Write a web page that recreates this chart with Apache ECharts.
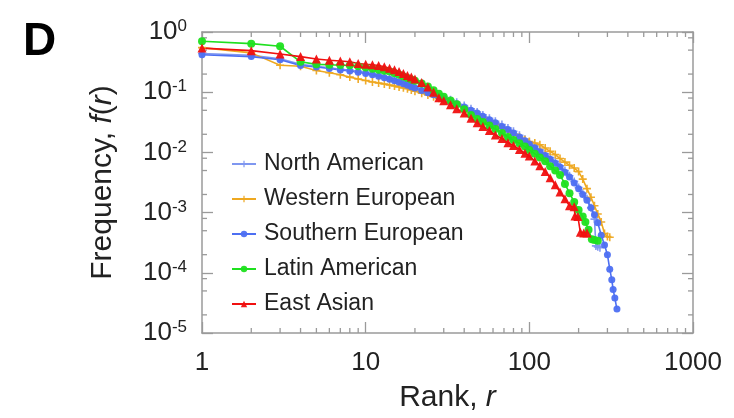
<!DOCTYPE html>
<html>
<head>
<meta charset="utf-8">
<script src="https://cdn.jsdelivr.net/npm/echarts@6/dist/echarts.min.js"></script>
<style>html,body{margin:0;padding:0;background:#fff}#c{width:734px;height:418px}</style>
</head>
<body>
<div id="c"></div>
<script>
// ---- data ----
const seriesNames = ['North American', 'Western European', 'Southern European', 'Latin American', 'East Asian'];
const xTickLabels = ['1', '10', '100', '1000'];
const xMinorTicks = [2,3,4,5,6,7,8,9,20,30,40,50,60,70,80,90,200,300,400,500,600,700,800,900];
const yMinorTicks = [0.8,0.5,0.2,0.08,0.05,0.02,0.008,0.005,0.002,0.0008,0.0005,0.0002,0.00008,0.00005,0.00002];

const baseRanks = [1,2,3,4,5,6,7,8,9,10,11,12,13,14,15,16,17,18,19,20,22,24,26,28,30,33,36,40,44,48,52,57,62,68,74,80,87,94,100,108,116,125,134,144,154,165,176,188,200];

const naRanks = baseRanks.concat([212,225,238,250,255,262,270]);
const naFreq = [0.44,0.41,0.36,0.29,0.27,0.255,0.24,0.232,0.222,0.212,0.2,0.19,0.181,0.172,0.162,0.153,0.145,0.137,0.13,0.124,0.113,0.103,0.095,0.089,0.083,0.075,0.068,0.06,0.053,0.047,0.042,0.037,0.033,0.029,0.0255,0.0225,0.0192,0.0165,0.0147,0.0128,0.011,0.0095,0.0082,0.0071,0.006,0.005,0.0041,0.0033,0.0026,0.0021,0.0017,0.0012,0.00078,0.00028,0.00027,0.00026];

const weRanks = baseRanks.concat([212,225,238,250,262,275,288,300,310]);
const weFreq = [0.55,0.45,0.28,0.27,0.23,0.21,0.195,0.178,0.166,0.156,0.148,0.142,0.137,0.132,0.127,0.122,0.118,0.114,0.109,0.104,0.096,0.09,0.084,0.079,0.074,0.067,0.061,0.054,0.047,0.042,0.037,0.032,0.029,0.025,0.022,0.0198,0.018,0.0163,0.0152,0.0143,0.0134,0.0118,0.0104,0.0092,0.0079,0.0069,0.0061,0.0055,0.0048,0.0036,0.0025,0.0018,0.0013,0.00095,0.0007,0.00045,0.0004,0.00039];

const seRanks = baseRanks.concat([212,225,238,250,262,275,288,300,310,319,325,333,343]);
const seFreq = [0.42,0.39,0.345,0.278,0.262,0.248,0.234,0.226,0.214,0.204,0.194,0.184,0.174,0.164,0.155,0.146,0.138,0.13,0.123,0.117,0.107,0.098,0.091,0.085,0.079,0.071,0.064,0.057,0.05,0.045,0.04,0.035,0.031,0.027,0.024,0.021,0.018,0.0156,0.0138,0.012,0.0103,0.0089,0.0077,0.0066,0.0057,0.0047,0.0039,0.0031,0.0025,0.002,0.0016,0.0012,0.00092,0.00068,0.00042,0.00029,0.0002,0.000115,0.000077,0.000053,0.000038,0.000025];

const laRanks = baseRanks.concat([212,220,230,241,250,262]);
const laFreq = [0.70,0.64,0.58,0.32,0.29,0.285,0.282,0.28,0.27,0.256,0.246,0.236,0.228,0.22,0.206,0.195,0.182,0.172,0.163,0.155,0.14,0.124,0.108,0.094,0.084,0.073,0.063,0.052,0.042,0.036,0.032,0.028,0.0245,0.021,0.018,0.016,0.0142,0.0125,0.011,0.0095,0.0082,0.0071,0.0059,0.005,0.0042,0.003,0.0021,0.0015,0.0011,0.00086,0.0007,0.00052,0.00036,0.00035,0.00034];

const eaRanks = baseRanks.slice(0, 48).concat([190,198,205,215,225]);
const eaFreq = [0.54,0.49,0.43,0.39,0.355,0.34,0.33,0.32,0.30,0.29,0.285,0.278,0.265,0.25,0.235,0.22,0.205,0.19,0.178,0.166,0.145,0.122,0.1,0.081,0.072,0.062,0.053,0.045,0.037,0.031,0.027,0.023,0.0195,0.017,0.0145,0.013,0.0112,0.0097,0.0087,0.0072,0.006,0.0048,0.0038,0.0029,0.0022,0.0017,0.0013,0.00125,0.00088,0.00086,0.00047,0.00046,0.00046];

// ---- chart ----
const zip = (a, b) => a.map((r, i) => [r, b[i]]);
const AX = '#9a9a9a';
const FONT = '"Liberation Sans", Arial, sans-serif';
const plus = 'path://M4,0h2v4h4v2h-4v4h-2v-4h-4v-2h4z';

const chart = echarts.init(document.getElementById('c'), null, {renderer: 'canvas'});

function lineSeries(name, data, color, symbol, size) {
  return {
    name, type: 'line', data, xAxisIndex: 0, yAxisIndex: 0,
    symbol, symbolSize: size, showAllSymbol: true,
    lineStyle: {color, width: 1.6},
    itemStyle: {color, opacity: 0.95},
    emphasis: {disabled: true}, animation: false, z: 3
  };
}

function xMinor(params, api) {
  const cs = params.coordSys;
  const x = api.coord([api.value(0), 1])[0];
  const st = {stroke: AX, lineWidth: 1.3};
  return {type: 'group', children: [
    {type: 'line', shape: {x1: x, y1: cs.y + cs.height, x2: x, y2: cs.y + cs.height - 5}, style: st},
    {type: 'line', shape: {x1: x, y1: cs.y, x2: x, y2: cs.y + 5}, style: st}
  ]};
}
function yMinor(params, api) {
  const cs = params.coordSys;
  const y = api.coord([1, api.value(1)])[1];
  const st = {stroke: AX, lineWidth: 1.3};
  return {type: 'group', children: [
    {type: 'line', shape: {x1: cs.x, y1: y, x2: cs.x + 5, y2: y}, style: st},
    {type: 'line', shape: {x1: cs.x + cs.width, y1: y, x2: cs.x + cs.width - 5, y2: y}, style: st}
  ]};
}

const axisCommon = {
  type: 'log', logBase: 10,
  axisLine: {show: true, lineStyle: {color: AX, width: 1.5}},
  axisTick: {show: true, inside: true, length: 11, lineStyle: {color: AX, width: 1.3}},
  splitLine: {show: false}, minorTick: {show: false}
};

chart.setOption({
  animation: false,
  backgroundColor: '#fff',
  title: {text: 'D', left: 18, top: 14, textStyle: {fontSize: 46, fontWeight: 900, fontFamily: FONT, color: '#000'}},
  grid: {left: 202, right: 41, top: 32, bottom: 85, containLabel: false, outerBoundsMode: 'none'},
  legend: {
    data: seriesNames, orient: 'vertical', left: 226, top: 147,
    itemWidth: 24, itemHeight: 8, itemGap: 11,
    textStyle: {fontSize: 23, fontFamily: FONT, color: '#222', lineHeight: 24, padding: [0, 0, 0, 3]},
    inactiveColor: '#ccc', selectedMode: false
  },
  xAxis: [
    Object.assign({}, axisCommon, {
      position: 'bottom', min: 1, max: 1000,
      axisLabel: {fontSize: 26, fontFamily: FONT, color: '#222', margin: 17,
        formatter: v => xTickLabels[Math.round(Math.log10(v))]},
      name: '{n|Rank, }{i|r}', nameLocation: 'middle', nameGap: 50,
      nameTextStyle: {rich: {n: {fontSize: 30, fontFamily: FONT, color: '#222'}, i: {fontSize: 30, fontFamily: FONT, fontStyle: 'italic', color: '#222'}}}
    }),
    Object.assign({}, axisCommon, {position: 'top', min: 1, max: 1000, axisLabel: {show: false}})
  ],
  yAxis: [
    Object.assign({}, axisCommon, {
      position: 'left', min: 0.00001, max: 1,
      axisLabel: {margin: 15, color: '#222',
        formatter: v => '{b|10}{e|' + Math.round(Math.log10(v)) + '}',
        rich: {b: {fontSize: 26, fontFamily: FONT, color: '#222', lineHeight: 28},
               e: {fontSize: 17, fontFamily: FONT, color: '#222', lineHeight: 17, verticalAlign: 'top'}}},
      name: '{n|Frequency, }{i|f}{n|(}{i|r}{n|)}', nameLocation: 'middle', nameGap: 84, nameRotate: 90,
      nameTextStyle: {rich: {n: {fontSize: 30, fontFamily: FONT, color: '#222'}, i: {fontSize: 30, fontFamily: FONT, fontStyle: 'italic', color: '#222'}}}
    }),
    Object.assign({}, axisCommon, {position: 'right', min: 0.00001, max: 1, axisLabel: {show: false}})
  ],
  series: [
    lineSeries(seriesNames[0], zip(naRanks, naFreq), '#7f97f0', plus, 8),
    lineSeries(seriesNames[1], zip(weRanks, weFreq), '#eea820', plus, 8),
    lineSeries(seriesNames[2], zip(seRanks, seFreq), '#4d6ff2', 'circle', 7),
    lineSeries(seriesNames[3], zip(laRanks, laFreq), '#1fe01f', 'circle', 8),
    lineSeries(seriesNames[4], zip(eaRanks, eaFreq), '#f01010', 'triangle', 9),
    {type: 'custom', renderItem: xMinor, data: xMinorTicks.map(v => [v, 1]), silent: true, z: 1, clip: false},
    {type: 'custom', renderItem: yMinor, data: yMinorTicks.map(v => [1, v]), silent: true, z: 1, clip: false}
  ]
});
</script>
</body>
</html>
